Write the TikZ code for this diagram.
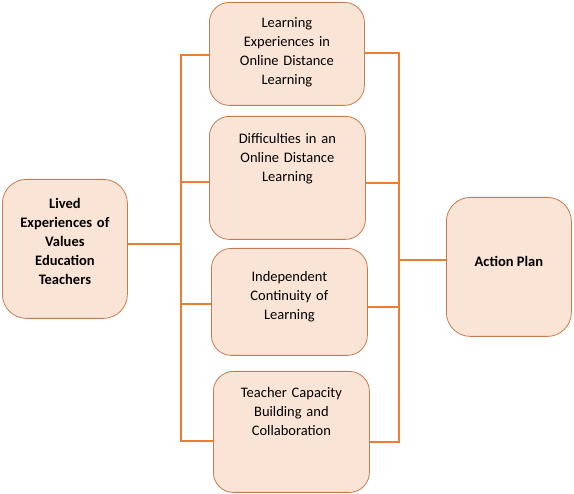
\documentclass[tikz,border=0pt]{standalone}
\usepackage{fontspec}
\setmainfont{Carlito}
\usetikzlibrary{positioning,calc}

\definecolor{boxfill}{RGB}{250,228,214}
\definecolor{boxline}{RGB}{197,122,80}
\definecolor{linkorange}{RGB}{237,125,49}

\tikzset{
  themebox/.style={draw=boxline,fill=boxfill,line width=0.8pt,rounded corners=20pt,inner sep=0pt},
  themetext/.style={anchor=north,align=center,inner sep=0pt,font=\fontsize{14.5}{19}\selectfont,text width=150pt},
  link/.style={draw=linkorange,line width=1.8pt},
}

\begin{document}
\begin{tikzpicture}[x=1pt,y=-1pt]
\useasboundingbox (0,0) rectangle (574,494);
% ---- boxes ----
\node[themebox,anchor=north west,minimum width=125pt,minimum height=139pt,rounded corners=24pt] (lived) at (2,179) {};
\node[themebox,anchor=north west,minimum width=155pt,minimum height=103pt] (exp) at (209,2) {};
\node[themebox,anchor=north west,minimum width=156pt,minimum height=123pt] (diff) at (209,116) {};
\node[themebox,anchor=north west,minimum width=156pt,minimum height=107pt] (indep) at (211,248) {};
\node[themebox,anchor=north west,minimum width=156pt,minimum height=121pt] (tcb) at (213,371) {};
\node[themebox,anchor=north west,minimum width=125pt,minimum height=139pt,rounded corners=24pt] (plan) at (446,197) {};
% ---- texts ----
\node[themetext,text width=120pt,font=\fontsize{14.5}{19}\selectfont\bfseries] (livedtxt) at ($(lived.north)+(0,19)$) {Lived\\Experiences of\\Values\\Education\\Teachers};
\node[themetext] (exptxt) at ($(exp.north)+(0,15)$) {Learning\\Experiences in\\Online Distance\\Learning};
\node[themetext] (difftxt) at ($(diff.north)+(0,17)$) {Difficulties in an\\Online Distance\\Learning};
\node[themetext] (indeptxt) at ($(indep.north)+(0,23)$) {Independent\\Continuity of\\Learning};
\node[themetext] (tcbtxt) at ($(tcb.north)+(0,16)$) {Teacher Capacity\\Building and\\Collaboration};
\node[font=\fontsize{14.5}{19}\selectfont\bfseries,inner sep=0pt] (plantxt) at ($(plan.center)+(0,-5)$) {Action Plan};
% ---- left bus ----
\coordinate (lt) at (181,55);
\coordinate (l2) at (181,182);
\coordinate (l3) at (181,304);
\coordinate (lb) at (181,441);
\coordinate (lin) at (181,244);
\draw[link] (exp.west |- lt) -- (lt) -- (lb) -- (tcb.west |- lb);
\draw[link] (l2) -- (diff.west |- l2);
\draw[link] (l3) -- (indep.west |- l3);
\draw[link] (lived.east |- lin) -- (lin);
% ---- right bus ----
\coordinate (rt) at (399,53);
\coordinate (r2) at (399,183);
\coordinate (r3) at (399,307);
\coordinate (rb) at (399,442);
\coordinate (rout) at (399,260);
\draw[link] (exp.east |- rt) -- (rt) -- (rb) -- (tcb.east |- rb);
\draw[link] (diff.east |- r2) -- (r2);
\draw[link] (indep.east |- r3) -- (r3);
\draw[link] (rout) -- (plan.west |- rout);
\end{tikzpicture}
\end{document}
